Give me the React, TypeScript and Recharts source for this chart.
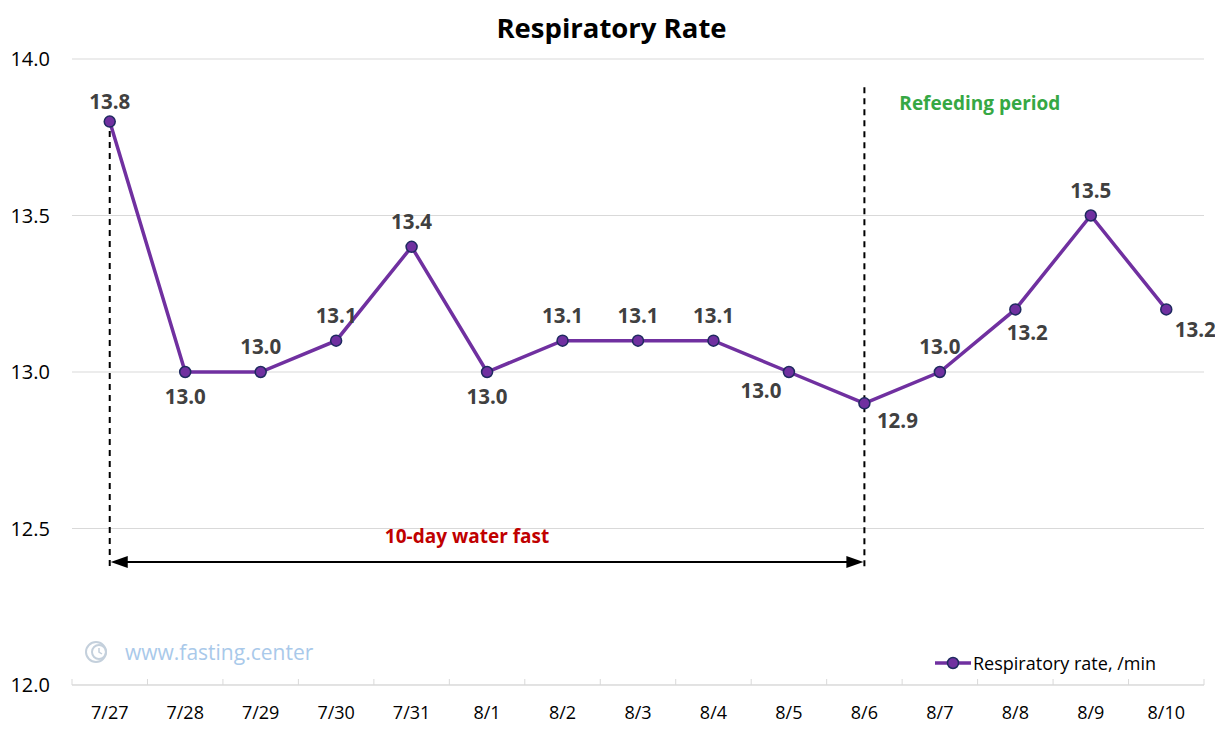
import React from "react";
import {
  LineChart,
  Line,
  XAxis,
  YAxis,
  CartesianGrid,
  LabelList,
  ReferenceLine,
  ReferenceDot,
} from "recharts";

const dates = ["7/27", "7/28", "7/29", "7/30", "7/31", "8/1", "8/2", "8/3", "8/4", "8/5", "8/6", "8/7", "8/8", "8/9", "8/10"];
const respiratoryRate = [13.8, 13.0, 13.0, 13.1, 13.4, 13.0, 13.1, 13.1, 13.1, 13.0, 12.9, 13.0, 13.2, 13.5, 13.2];
const yTicks = [12.0, 12.5, 13.0, 13.5, 14.0];

// where each value label sits relative to its point
const labelSpot: [number, number][] = [
  [0, -21], [0, 24], [0, -26], [0, -26], [0, -26], [0, 24], [0, -26], [0, -26], [0, -26],
  [-28, 18], [33, 17], [0, -26], [12, 23], [0, -26], [29, 20],
];

const W = 1215;
const H = 717;
const margin = { top: 51, right: 19, bottom: 8, left: 4 };
const yAxisW = 60;
const band = (W - margin.left - margin.right - yAxisW) / dates.length;
const FONT = "'Open Sans', 'Noto Sans', sans-serif";
const PURPLE = "#7030a0";

const chartData = dates.map((d, i) => ({ date: d, rate: respiratoryRate[i] }));

function DateTick(props: any) {
  const { x, y, payload, index } = props;
  const last = index === dates.length - 1;
  return (
    <g>
      <line x1={x - band / 2} x2={x - band / 2} y1={y - 6} y2={y} stroke="#d9d9d9" />
      {last && <line x1={x + band / 2} x2={x + band / 2} y1={y - 6} y2={y} stroke="#d9d9d9" />}
      <text x={x} y={y + 27} textAnchor="middle" dominantBaseline="central" fontSize={18} fill="#000" fontFamily={FONT}>
        {payload.value}
      </text>
    </g>
  );
}

function ValueLabel(props: any) {
  const { x, y, value, index } = props;
  const [dx, dy] = labelSpot[index];
  return (
    <text x={x + dx} y={y + dy} textAnchor="middle" dominantBaseline="central" fontSize={20.5} fontWeight={700} fill="#404040" fontFamily={FONT}>
      {Number(value).toFixed(1)}
    </text>
  );
}

function Arrow(props: any) {
  const { x1, x2, y1 } = props;
  const y = y1;
  return (
    <g>
      <line x1={x1 + 10} x2={x2 - 10} y1={y} y2={y} stroke="#000" strokeWidth={2} />
      <polygon points={`${x1 + 1},${y} ${x1 + 18},${y - 6} ${x1 + 18},${y + 6}`} fill="#000" />
      <polygon points={`${x2 - 1},${y} ${x2 - 18},${y - 6} ${x2 - 18},${y + 6}`} fill="#000" />
    </g>
  );
}

function note(text: string, color: string, dx: number) {
  return (props: any) => {
    const vb = props.viewBox || {};
    const cx = vb.x + (vb.width || 0) / 2;
    const cy = vb.y + (vb.height || 0) / 2;
    return (
      <text x={cx + dx} y={cy} textAnchor="middle" dominantBaseline="central" fontSize={19} fontWeight={700} fill={color} fontFamily={FONT}>
        {text}
      </text>
    );
  };
}

export default function App() {
  return (
    <div style={{ position: "relative", width: W, height: H, background: "#fff" }}>
      <div
        style={{
          position: "absolute",
          top: 1,
          left: 0,
          width: 1207,
          textAlign: "center",
          fontFamily: FONT,
          fontWeight: 700,
          fontSize: 27.5,
          color: "#000",
        }}
      >
        Respiratory Rate
      </div>
      <div style={{ position: "absolute", left: 76, top: 630, display: "flex", alignItems: "center", fontFamily: FONT, fontSize: 21, color: "#a9c9ea" }}>
        <svg width={28} height={26}>
          <circle cx={12} cy={13} r={10} fill="none" stroke="#c4d0dc" strokeWidth={2} />
          <circle cx={15} cy={13} r={7} fill="none" stroke="#c4d0dc" strokeWidth={2} />
          <path d="M15 9 L15 13 L18 15" fill="none" stroke="#c4d0dc" strokeWidth={1.5} />
        </svg>
        <span style={{ marginLeft: 13 }}>www.fasting.center</span>
      </div>
      <div style={{ position: "absolute", left: 926, top: 643, display: "flex", alignItems: "center", fontFamily: FONT, fontSize: 18, color: "#000" }}>
        <svg width={38} height={14}>
          <line x1={1} x2={37} y1={7} y2={7} stroke={PURPLE} strokeWidth={3.5} />
          <circle cx={19} cy={7} r={5.5} fill={PURPLE} stroke="#1f2a60" strokeWidth={1.5} />
        </svg>
        <span style={{ marginLeft: 1 }}>Respiratory rate, /min</span>
      </div>
      <LineChart width={W} height={H} data={chartData} margin={margin}>
        <CartesianGrid vertical={false} stroke="#d9d9d9" />
        <XAxis
          dataKey="date"
          height={32}
          padding={{ left: band / 2, right: band / 2 }}
          axisLine={{ stroke: "#d9d9d9" }}
          tickLine={false}
          tickSize={0}
          tickMargin={0}
          interval={0}
          tick={<DateTick />}
        />
        <YAxis
          domain={[12, 14]}
          ticks={yTicks}
          width={yAxisW}
          axisLine={false}
          tickLine={false}
          tickMargin={16}
          tickFormatter={(v: number) => v.toFixed(1)}
          tick={{ fontSize: 20, fill: "#000", fontFamily: FONT }}
        />
        <ReferenceLine
          segment={[{ x: "7/27", y: 13.77 }, { x: "7/27", y: 12.37 }]}
          stroke="#000"
          strokeWidth={2}
          strokeDasharray="6 5"
        />
        <ReferenceLine
          segment={[{ x: "8/6", y: 13.91 }, { x: "8/6", y: 12.37 }]}
          stroke="#000"
          strokeWidth={2}
          strokeDasharray="6 5"
        />
        <ReferenceLine segment={[{ x: "7/27", y: 12.393 }, { x: "8/6", y: 12.393 }]} shape={<Arrow />} />
        <ReferenceDot x="8/1" y={12.476} r={1} fill="none" stroke="none" label={note("10-day water fast", "#c00000", -20)} />
        <ReferenceDot x="8/7" y={13.859} r={1} fill="none" stroke="none" label={note("Refeeding period", "#36a844", 40)} />
        <Line
          type="linear"
          dataKey="rate"
          name="Respiratory rate, /min"
          stroke={PURPLE}
          strokeWidth={3.5}
          dot={{ r: 5.5, fill: PURPLE, stroke: "#1f2a60", strokeWidth: 1.5 }}
          isAnimationActive={false}
        >
          <LabelList dataKey="rate" content={<ValueLabel />} />
        </Line>
      </LineChart>
    </div>
  );
}
